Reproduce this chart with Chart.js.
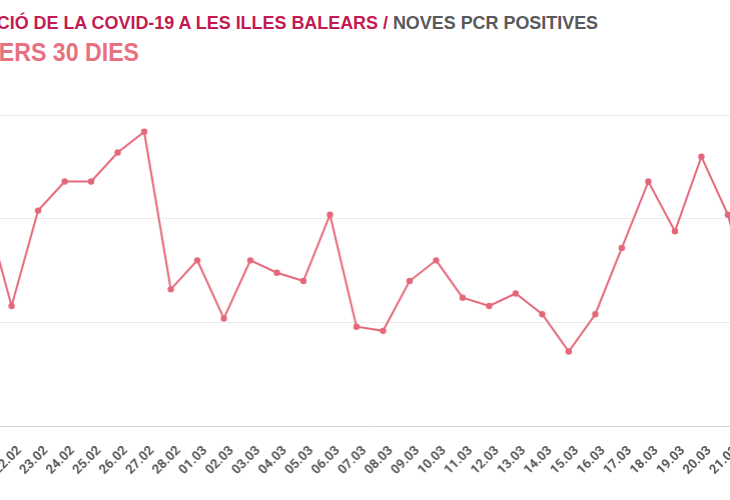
<!DOCTYPE html>
<html>
<head>
<meta charset="utf-8">
<script src="https://cdn.jsdelivr.net/npm/chart.js@4.4.1/dist/chart.umd.min.js"></script>
<style>
  body { margin: 0; width: 730px; height: 500px; overflow: hidden; background: #fff; position: relative; }
  .t1, .t2 { position: absolute; white-space: nowrap; font-family: "Liberation Sans", sans-serif; font-weight: bold; transform-origin: 0 0; }
  .t1 { left: -65px; top: 12.6px; font-size: 19px; line-height: 19px; color: #c21a52; transform: scaleX(0.943); }
  .t1 span { color: #58595b; }
  .t2 { left: -68px; top: 38.7px; font-size: 26px; line-height: 26px; color: #e8717f; transform: scaleX(0.89); }
  .wrap { position: absolute; left: -54.6px; top: 101.5px; width: 828.5px; height: 385px; }
</style>
</head>
<body>
<div class="t1">EVOLUCIÓ DE LA COVID-19 A LES ILLES BALEARS / <span>NOVES PCR POSITIVES</span></div>
<div class="t2">DARRERS 30 DIES</div>
<div class="wrap"><canvas id="myChart"></canvas></div>
<script>
// dates (dd.mm), last 30 days
const dates = [
  "21.02", "22.02", "23.02", "24.02", "25.02", "26.02", "27.02", "28.02",
  "01.03", "02.03", "03.03", "04.03", "05.03", "06.03", "07.03", "08.03",
  "09.03", "10.03", "11.03", "12.03", "13.03", "14.03", "15.03", "16.03",
  "17.03", "18.03", "19.03", "20.03", "21.03", "22.03"
];
// new positive PCRs per day
const positives = [
  105, 58, 104, 118, 118, 132, 142, 66,
  80, 52, 80, 74, 70, 102, 48, 46,
  70, 80, 62, 58, 64, 54, 36, 54,
  86, 118, 94, 130, 102, 52
];
const yTicks = [0, 50, 100, 150];

const lineColor = "#e4677a";

const ctx = document.getElementById("myChart").getContext("2d");
const chart = new Chart(ctx, {
  type: "line",
  data: {
    labels: dates,
    datasets: [
      {
        label: "Noves PCR positives",
        data: positives,
        borderColor: lineColor,
        backgroundColor: lineColor,
        borderWidth: 2,
        pointRadius: 2.2,
        pointHoverRadius: 3,
        tension: 0,
        fill: false,
      },
    ],
  },
  options: {
    responsive: true,
    maintainAspectRatio: false,
    animation: false,
    layout: { padding: 0 },
    plugins: {
      legend: { display: false },
      tooltip: { enabled: false },
    },
    scales: {
      x: {
        grid: { display: false },
        border: { display: true, color: "#d2d2d2", width: 1 },
        ticks: {
          minRotation: 45,
          maxRotation: 45,
          autoSkip: false,
          padding: 9,
          labelOffset: 8,
          color: "#555555",
          font: { family: "Roboto", weight: "bold", size: 13 },
        },
      },
      y: {
        min: yTicks[0],
        max: yTicks[yTicks.length - 1],
        afterFit: (scale) => { scale.width = 40; },
        afterBuildTicks: (scale) => { scale.ticks = yTicks.map((v) => ({ value: v })); },
        grid: { color: "#ececec", drawTicks: false },
        border: { display: false },
        ticks: {
          padding: 6,
          color: "#555555",
          font: { family: "Roboto", weight: "bold", size: 12 },
        },
      },
    },
  },
});
</script>
</body>
</html>
